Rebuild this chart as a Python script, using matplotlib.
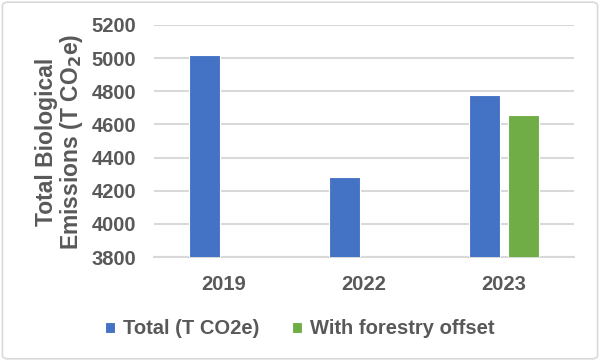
import numpy as np
import matplotlib
matplotlib.use('Agg')
import matplotlib.pyplot as plt
from matplotlib.patches import FancyBboxPatch

# Data
years = ['2019', '2022', '2023']
total = [5020, 4280, 4780]
forestry = [np.nan, np.nan, 4655]
series_names = ['Total (T CO2e)', 'With forestry offset']
yticks = [3800, 4000, 4200, 4400, 4600, 4800, 5000, 5200]

blue = '#4472C4'
green = '#70AD47'
text_col = '#595959'
grid_col = '#D9D9D9'

plt.rcParams['font.family'] = ['Liberation Sans', 'DejaVu Sans']
plt.rcParams['font.weight'] = 'bold'

fig = plt.figure(figsize=(6.0, 3.61), dpi=100)
ax = fig.add_axes([0.2567, 0.288, 0.70, 0.643])

x = np.arange(len(years))
w = 0.225
off = 0.14
ax.bar(x - off, total, w, color=blue, edgecolor='white', linewidth=0.8,
       label=series_names[0], zorder=3)
ax.bar(x + off, forestry, w, color=green, edgecolor='white', linewidth=0.8,
       label=series_names[1], zorder=3)

ax.set_xlim(-0.5, 2.5)
ax.set_ylim(3800, 5200)
ax.set_yticks(yticks)
ax.set_xticks(x)
ax.set_xticklabels(years)
ax.yaxis.grid(True, color=grid_col, linewidth=1.5, zorder=0)
ax.set_axisbelow(True)
for s in ['top', 'right', 'left']:
    ax.spines[s].set_visible(False)
ax.spines['bottom'].set_color(grid_col)
ax.spines['bottom'].set_linewidth(1.5)
ax.tick_params(axis='both', length=0, colors=text_col, labelsize=14.5)
ax.tick_params(axis='x', pad=13)
ax.tick_params(axis='y', pad=13)
for lab in ax.get_xticklabels() + ax.get_yticklabels():
    lab.set_fontweight('bold')

fig.text(0.10, 1 - 142 / 361, 'Total Biological\nEmissions (T CO$_\\mathbf{2}$e)',
         rotation=90, ha='center', va='center', fontsize=16.5,
         fontweight='bold', color=text_col, linespacing=1.0)

leg = fig.legend(loc='center', bbox_to_anchor=(0.5, 1 - 329 / 361), ncol=2,
                 frameon=False, fontsize=14.5, handlelength=0.5, handleheight=0.5,
                 handletextpad=0.4, columnspacing=1.6)
for t in leg.get_texts():
    t.set_color(text_col)
    t.set_fontweight('bold')

# light outer border
border = FancyBboxPatch((0.004, 0.006), 0.992, 0.988, boxstyle='round,pad=0,rounding_size=0.01',
                        transform=fig.transFigure, fill=False, edgecolor=grid_col,
                        linewidth=1.2)
fig.patches.append(border)

fig.savefig('out.png', dpi=100)
